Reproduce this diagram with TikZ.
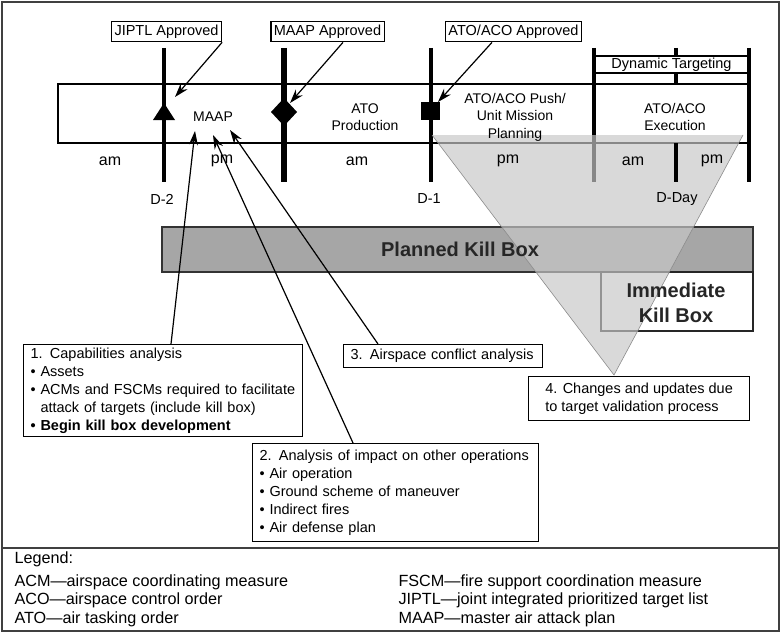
\documentclass[tikz,border=0pt]{standalone}
\usepackage{fontspec}
\setmainfont{Liberation Sans}
\usetikzlibrary{arrows.meta}

\tikzset{
  tag/.style={draw, line width=1.2pt, fill=white, inner xsep=3pt, inner ysep=3.5pt, font=\fontsize{14.5}{17}\selectfont},
  note/.style={draw, line width=1.2pt, fill=white, anchor=north west, align=left, inner xsep=7pt, inner ysep=3pt, font=\fontsize{14.5}{18}\selectfont},
  phase/.style={align=center, font=\fontsize{14}{17.5}\selectfont},
  half/.style={font=\fontsize{16}{18}\selectfont},
  dayl/.style={font=\fontsize{14.5}{17}\selectfont},
  killtxt/.style={align=center, text=black!85, font=\bfseries\fontsize{20}{25}\selectfont},
  legend/.style={anchor=base west, font=\fontsize{16.2}{19}\selectfont},
  tick/.style={line width=3.6pt},
  ptr/.style={-{Stealth[length=14pt,width=9pt]}, line width=1.2pt},
}

\begin{document}
\begin{tikzpicture}[x=1pt, y=-1pt]
 \useasboundingbox (0,0) rectangle (784,634);
 \draw[line width=1.5pt, black!75] (2,2) rectangle (779,631);
 \draw[line width=1.5pt, black!75] (2,548) -- (779,548);

 % time line
 \draw[line width=1.3pt] (58,84) rectangle (749,143);
 \node[draw, line width=1.3pt, minimum width=155, minimum height=17, inner sep=0pt, font=\fontsize{14.5}{17}\selectfont] (dyn) at (671.5,64.5) {Dynamic Targeting};
 \foreach \x in {164,431,594,749}
 {
     \draw[tick](\x,48)--(\x,182);
 }
 \draw[line width=5.5pt](284,48)--(284,182);
 \draw[tick](676,48)--(676,56);
 \draw[tick](676,73)--(676,84);

 % markers
 \fill (153,120)--(164,103)--(175,120)--cycle;
 \fill (284,98)--(297,112)--(284,126)--(271,112)--cycle;
 \fill (421,102) rectangle (440,120);

 % kill boxes
 \draw[line width=1.5pt, fill=black!35, draw=black!80] (162,227) rectangle (753,272);
 \draw[line width=1.5pt, draw=black!85] (601,272) rectangle (753,331);

 % target validation window
 \fill[black!22, fill opacity=.68] (432,135)--(743,135)--(614,375)--cycle;
 \draw[black!45, line width=.6pt] (432,135)--(614,375)--(743,135);
 \draw[tick](676,143)--(676,182);

 \node[killtxt] (pkb) at (460,249) {Planned Kill Box};
 \node[killtxt] (ikb) at (676,302.5) {Immediate\\Kill Box};

 % phases
 \node[phase] (maap) at (213,117) {MAAP};
 \node[phase] (prod) at (365,117) {ATO\\Production};
 \node[phase] (push) at (515,117) {ATO/ACO Push/\\Unit Mission\\Planning};
 \node[phase] (exec) at (675,117) {ATO/ACO\\Execution};

 \node[half] (h1) at (110,161) {am};
 \node[half] (h2) at (222,161) {pm};
 \node[half] (h3) at (357,161) {am};
 \node[half] (h4) at (508,161) {pm};
 \node[half] (h5) at (633,161) {am};
 \node[half] (h6) at (712,161) {pm};

 \node[dayl] (dm2) at (162,199) {D-2};
 \node[dayl] (dm1) at (429,199) {D-1};
 \node[dayl] (dday) at (677,199) {D-Day};

 % approvals
 \node[tag] (jiptl) at (166.5,31.5) {JIPTL Approved};
 \node[tag] (maapok) at (327.5,31.5) {MAAP Approved};
 \node[tag] (atook) at (513.5,31.5) {ATO/ACO Approved};
 \coordinate (tri) at (175,97);
 \coordinate (dia) at (290,103);
 \coordinate (sqr) at (438,102);
 \draw[ptr] (jiptl.south east)--(tri);
 \draw[ptr] ([xshift=15.5]maapok.south)--(dia);
 \draw[ptr] ([xshift=-21.5]atook.south)--(sqr);

 % analysis steps
 \node[note, text width=265] (cap) at (23,344) {1. Capabilities analysis\\
   • Assets\\
   • ACMs and FSCMs required to facilitate\\
   \phantom{• }attack of targets (include kill box)\\
   \textbf{• Begin kill box development}};
 \node[note, inner ysep=6pt, text width=272] (imp) at (252,443) {2. Analysis of impact on other operations\\
   • Air operation\\
   • Ground scheme of maneuver\\
   • Indirect fires\\
   • Air defense plan};
 \node[note, inner ysep=4.5pt, text width=185] (air) at (343,344) {3. Airspace conflict analysis};
 \node[note, inner ysep=6pt, minimum width=221] (chg) at (528,376) {4. Changes and updates due\\to target validation process};

 \coordinate (m1) at (195,131);
 \coordinate (m2) at (213,135);
 \coordinate (m3) at (230,130);
 \draw[ptr] ([xshift=148]cap.north west)--(m1);
 \draw[ptr] ([xshift=101]imp.north west)--(m2);
 \draw[ptr] ([xshift=35]air.north west)--(m3);

 % legend
 \node[legend] (lg0) at (11,563) {Legend:};
 \node[legend] (lg1) at (11,586) {ACM—airspace coordinating measure};
 \node[legend] (lg2) at (11,604.5) {ACO—airspace control order};
 \node[legend] (lg3) at (11,623) {ATO—air tasking order};
 \node[legend] (lg4) at (395,586) {FSCM—fire support coordination measure};
 \node[legend] (lg5) at (395,604.5) {JIPTL—joint integrated prioritized target list};
 \node[legend] (lg6) at (395,623) {MAAP—master air attack plan};
\end{tikzpicture}
\end{document}
